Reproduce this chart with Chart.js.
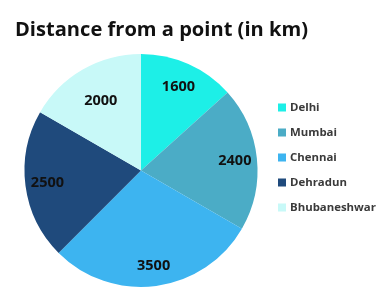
<!DOCTYPE html>
<html><head><meta charset="utf-8">
<script src="https://cdn.jsdelivr.net/npm/chart.js@4"></script>
<style>html,body{margin:0;padding:0;background:#fff}#wrap{width:386px;height:297px}</style>
</head><body><div id="wrap"><canvas id="c" width="386" height="297"></canvas></div>
<script>
const cities = ['Delhi','Mumbai','Chennai','Dehradun','Bhubaneshwar'];
const distances = [1600,2400,3500,2500,2000];
const colors = ['#1DEFE7','#4BACC6','#3DB4F0','#1F4A7C','#C8F9F8'];
const titleText = 'Distance from a point (in km)';
const labelRadius = [0.79,0.81,0.83,0.81,0.69];

const FONT = '"Open Sans", sans-serif';
const overlay = {
  id:'overlay',
  afterDraw(chart){
    const ctx = chart.ctx;
    ctx.save();
    // title
    ctx.fillStyle = '#111';
    ctx.font = 'bold 20.1px ' + FONT;
    ctx.textBaseline = 'alphabetic';
    ctx.textAlign = 'left';
    ctx.fillText(titleText, 15, 36);
    // data labels
    const meta = chart.getDatasetMeta(0);
    ctx.font = 'bold 14.5px ' + FONT;
    ctx.textAlign = 'center';
    ctx.textBaseline = 'middle';
    ctx.fillStyle = '#111';
    meta.data.forEach((arc,i)=>{
      const p = arc.getProps(['x','y','startAngle','endAngle','outerRadius'],true);
      const mid = (p.startAngle+p.endAngle)/2;
      const r = p.outerRadius*labelRadius[i];
      ctx.fillText(String(distances[i]), p.x+Math.cos(mid)*r, p.y+Math.sin(mid)*r);
    });
    // legend
    ctx.font = 'bold 11.4px ' + FONT;
    ctx.textAlign = 'left';
    cities.forEach((c,i)=>{
      const y = 107.5 + i*25;
      ctx.fillStyle = colors[i];
      ctx.fillRect(278, y-4, 8, 8);
      ctx.fillStyle = '#3a3a3a';
      ctx.fillText(c, 290, y+0.5);
    });
    ctx.restore();
  }
};

new Chart(document.getElementById('c'), {
  type:'pie',
  data:{labels:cities, datasets:[{data:distances, backgroundColor:colors, borderWidth:0}]},
  options:{
    responsive:false, animation:false, devicePixelRatio:1,
    layout:{padding:{top:54,bottom:10,left:24.5,right:128.5}},
    plugins:{legend:{display:false}, tooltip:{enabled:false}, title:{display:false}}
  },
  plugins:[overlay]
});
</script></body></html>
